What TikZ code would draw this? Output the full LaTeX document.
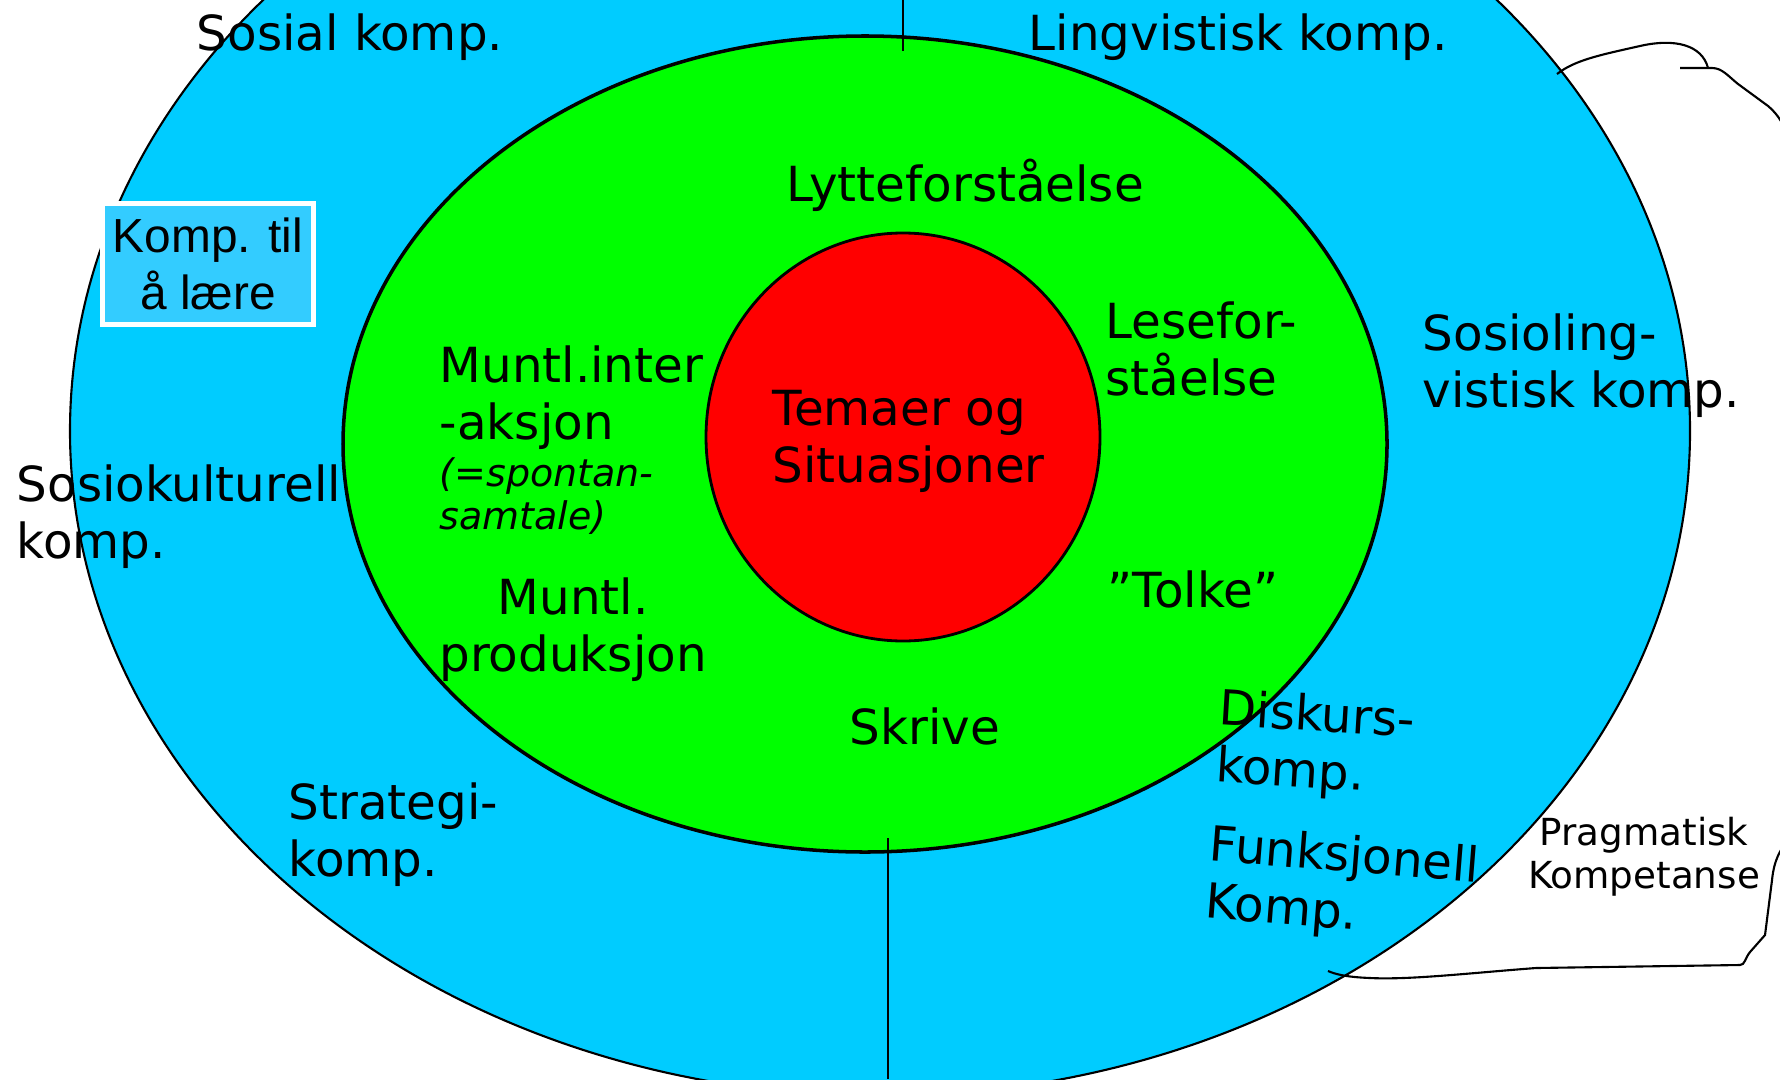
\documentclass[tikz,border=0pt]{standalone}
\usepackage{fontspec}
\setmainfont{DejaVu Sans}
\newfontfamily\arialfont{Liberation Sans}

\definecolor{ringblue}{HTML}{00CCFF}
\definecolor{boxblue}{HTML}{33CCFF}
\definecolor{ringgreen}{HTML}{00FF00}
\definecolor{corered}{HTML}{FF0000}

\begin{document}
\begin{tikzpicture}[x=0.01cm, y=-0.01cm,
  lbl/.style = {inner sep=0pt, font=\fontsize{13.75}{16.2}\selectfont, align=left},
  note/.style = {inner sep=0pt, font=\fontsize{10.6}{12.2}\selectfont, align=center},
  ring/.style = {draw=black, line width=0.8pt}]
\useasboundingbox (0,0) rectangle (1780,1079);
\clip (0,0) rectangle (1780,1079);

\draw[ring, fill=ringblue, line width=0.6pt] (880,431) ellipse [x radius=810, y radius=665];
\draw[ring, fill=ringgreen, line width=1pt] (865,444) ellipse [x radius=522, y radius=408];
\draw[ring, fill=corered] (903,437) ellipse [x radius=197, y radius=204];

\coordinate (topa) at (903,0); \coordinate (topb) at (903,51);
\coordinate (bota) at (888,838); \coordinate (botb) at (888,1079);
\draw[line width=0.4pt] (topa)--(topb);
\draw[line width=0.4pt] (bota)--(botb);

% hand drawn brace
\coordinate (br1) at (1557,74); \coordinate (br2) at (1708,68);
\coordinate (br3) at (1680,68); \coordinate (br4) at (1328,971);
\draw[line width=0.6pt] (br1) .. controls (1575,60) and (1600,55) .. (1640,46) .. controls (1675,38) and (1702,45) .. (br2);
\draw[line width=0.6pt] (br3) -- (1712,68) .. controls (1722,68) and (1728,76) .. (1738,84) -- (1768,106) .. controls (1782,118) and (1788,132) .. (1788,150) -- (1788,840) .. controls (1780,850) and (1774,860) .. (1772,880) -- (1765,935) -- (1750,952) .. controls (1745,958) and (1745,965) .. (1740,965) -- (1536,968) .. controls (1470,973) and (1410,980) .. (1370,978) .. controls (1345,977) and (1335,974) .. (br4);

\node[lbl, anchor=base west] (sosial) at (196,51) {Sosial komp.};
\node[lbl, anchor=base west] (lingv) at (1028,51) {Lingvistisk komp.};
\node[lbl, anchor=base west] (lytte) at (786,201) {Lytteforståelse};
\node[draw=white, line width=1.2pt, fill=boxblue, minimum width=2.11cm, minimum height=1.21cm, align=center,
  inner sep=0pt, font=\arialfont\fontsize{13.6}{16.4}\selectfont] (laere) at (208,264) {Komp. til\\å lære};
\node[lbl, anchor=west] (lese) at (1105,349) {Lesefor-\\ståelse};
\node[lbl, anchor=west] (sosioling) at (1422,366) {Sosioling-\\vistisk komp.};
\node[lbl, anchor=west] (tema) at (772,441) {Temaer og\\Situasjoner};
\node[lbl, anchor=west] (muntlint) at (439,398) {Muntl.inter\\-aksjon};
\node[inner sep=0pt, align=left, font=\fontsize{10.8}{12.2}\selectfont\itshape, anchor=west] (spontan) at (439,496) {(=spontan-\\samtale)};
\node[lbl, anchor=west] (sosiokult) at (16,517) {Sosiokulturell\\komp.};
\node[lbl, align=center] (muntlprod) at (573,630) {Muntl.\\produksjon};
\node[lbl, anchor=base west] (tolke) at (1107,607) {”Tolke”};
\node[lbl, anchor=base west] (skrive) at (849,744) {Skrive};
\node[lbl, anchor=west] (strategi) at (288,835) {Strategi-\\komp.};
\node[lbl, anchor=west, rotate=-3.5] (diskurs) at (1217,740) {Diskurs-\\komp.};
\node[lbl, anchor=west, rotate=-4.5] (funksj) at (1207,876) {Funksjonell\\Komp.};
\node[note] (pragm) at (1644,857) {Pragmatisk\\Kompetanse};

\end{tikzpicture}
\end{document}
